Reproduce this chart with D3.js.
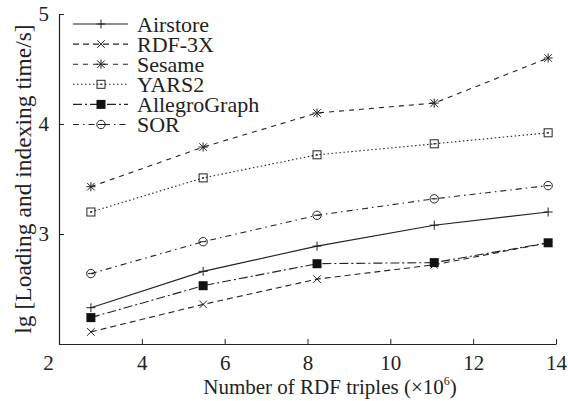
<!DOCTYPE html>
<html>
<head>
<meta charset="utf-8">
<script src="https://cdn.jsdelivr.net/npm/d3@7"></script>
<style>
  html, body { margin: 0; padding: 0; background: #fff; }
  svg { display: block; }
  text { font-family: "Liberation Serif", "Times New Roman", serif; fill: #222; }
</style>
</head>
<body>
<svg id="chart" width="568" height="401"></svg>
<script>
// ---- data ----
const xValues   = [2.77, 5.48, 8.23, 11.06, 13.81];
const airstore  = [2.33, 2.66, 2.89, 3.08, 3.20];
const rdf3x     = [2.11, 2.36, 2.59, 2.72, 2.92];
const sesame    = [3.43, 3.79, 4.10, 4.19, 4.60];
const yars2     = [3.20, 3.51, 3.72, 3.82, 3.92];
const allegro   = [2.24, 2.53, 2.73, 2.74, 2.92];
const sor       = [2.64, 2.93, 3.17, 3.32, 3.44];
const seriesNames = ["Airstore", "RDF-3X", "Sesame", "YARS2", "AllegroGraph", "SOR"];
const xTicks = [2, 4, 6, 8, 10, 12, 14];
const yTicks = [2, 3, 4, 5];

// ---- styles ----
const styles = {
  "Airstore":     { dash: null,          marker: "plus" },
  "RDF-3X":       { dash: "6,4",         marker: "cross" },
  "Sesame":       { dash: "5,5",         marker: "star" },
  "YARS2":        { dash: "1.5,2.5",     marker: "square" },
  "AllegroGraph": { dash: "9,3,2,3",     marker: "fsquare" },
  "SOR":          { dash: "6,4,1.5,4",   marker: "circle" }
};
const seriesValues = [airstore, rdf3x, sesame, yars2, allegro, sor];
const series = seriesNames.map((n, i) => ({
  name: n,
  points: xValues.map((x, j) => ({ x, y: seriesValues[i][j] }))
}));

const W = 568, H = 401;
const m = { left: 59, top: 14, right: 12, bottom: 57 };
const svg = d3.select("#chart");
const x = d3.scaleLinear().domain([2, 14]).range([m.left, W - m.right]);
const y = d3.scaleLinear().domain([2, 5]).range([H - m.bottom, m.top]);
const ink = "#222";

// axes
const xAxis = svg.append("g").attr("transform", `translate(0,${y(2)})`)
  .call(d3.axisBottom(x).tickValues(xTicks).tickSizeInner(-5).tickSizeOuter(0).tickPadding(10));
xAxis.selectAll("text").attr("font-size", 21).attr("dy", "0.75em")
  .attr("dx", d => d === 2 ? -11 : 0);
const yAxis = svg.append("g").attr("transform", `translate(${x(2)},0)`)
  .call(d3.axisLeft(y).tickValues(yTicks).tickSizeInner(-5).tickSizeOuter(0).tickPadding(10)
    .tickFormat(d => d === 2 ? "" : d));
yAxis.selectAll("text").attr("font-size", 21);
[xAxis, yAxis].forEach(g => {
  g.select(".domain").attr("stroke", ink).attr("stroke-width", 1.2);
  g.selectAll(".tick line").attr("stroke", ink).attr("stroke-width", 1);
  g.selectAll("text").attr("fill", ink).attr("font-family", "Liberation Serif");
});

// axis titles
const xt = svg.append("text").attr("x", 330).attr("y", 394).attr("text-anchor", "middle")
  .attr("font-size", 21);
xt.append("tspan").text("Number of RDF triples (\u00d710");
xt.append("tspan").text("6").attr("font-size", 12).attr("dy", -9);
xt.append("tspan").text(")").attr("dy", 9);

svg.append("text")
  .attr("transform", `translate(31,${(y(2) + y(5)) / 2}) rotate(-90)`)
  .attr("text-anchor", "middle").attr("font-size", 23.5)
  .text("lg [Loading and indexing time/s]");

// markers
function drawMarker(g, type, cx, cy) {
  const s = 4.5;
  if (type === "plus") {
    g.append("path").attr("d", `M${cx - s},${cy}H${cx + s}M${cx},${cy - s}V${cy + s}`)
      .attr("stroke", ink).attr("fill", "none");
  } else if (type === "cross") {
    const r = 3.8;
    g.append("path").attr("d", `M${cx - r},${cy - r}L${cx + r},${cy + r}M${cx - r},${cy + r}L${cx + r},${cy - r}`)
      .attr("stroke", ink).attr("fill", "none");
  } else if (type === "star") {
    const r = 3.8;
    g.append("path").attr("d",
      `M${cx - r},${cy - r}L${cx + r},${cy + r}M${cx - r},${cy + r}L${cx + r},${cy - r}M${cx},${cy - s}V${cy + s}M${cx - s},${cy}H${cx + s}`)
      .attr("stroke", ink).attr("fill", "none");
  } else if (type === "square") {
    g.append("rect").attr("x", cx - 4).attr("y", cy - 4).attr("width", 8).attr("height", 8)
      .attr("stroke", ink).attr("fill", "none");
    g.append("circle").attr("cx", cx).attr("cy", cy).attr("r", 0.9).attr("fill", ink);
  } else if (type === "fsquare") {
    g.append("rect").attr("x", cx - 4.5).attr("y", cy - 4.5).attr("width", 9).attr("height", 9)
      .attr("fill", "#111");
  } else if (type === "circle") {
    g.append("circle").attr("cx", cx).attr("cy", cy).attr("r", 4.2)
      .attr("stroke", ink).attr("fill", "none");
    g.append("path").attr("d", `M${cx - 3},${cy}H${cx + 3}`).attr("stroke", ink);
  }
}

const line = d3.line().x(d => x(d.x)).y(d => y(d.y));
series.forEach(s => {
  const st = styles[s.name];
  const g = svg.append("g");
  g.append("path").datum(s.points).attr("d", line)
    .attr("fill", "none").attr("stroke", ink).attr("stroke-width", 1.1)
    .attr("stroke-dasharray", st.dash);
  s.points.forEach(p => drawMarker(g, st.marker, x(p.x), y(p.y)));
});

// legend
const lg = svg.append("g");
seriesNames.forEach((n, i) => {
  const st = styles[n];
  const ly = 24 + i * 20.1;
  lg.append("line").attr("x1", 73).attr("x2", 128).attr("y1", ly).attr("y2", ly)
    .attr("stroke", ink).attr("stroke-width", 1.1).attr("stroke-dasharray", st.dash);
  drawMarker(lg, st.marker, 101, ly);
  lg.append("text").attr("x", 137).attr("y", ly).attr("dy", "0.35em")
    .attr("font-size", 22).text(n);
});
</script>
</body>
</html>
